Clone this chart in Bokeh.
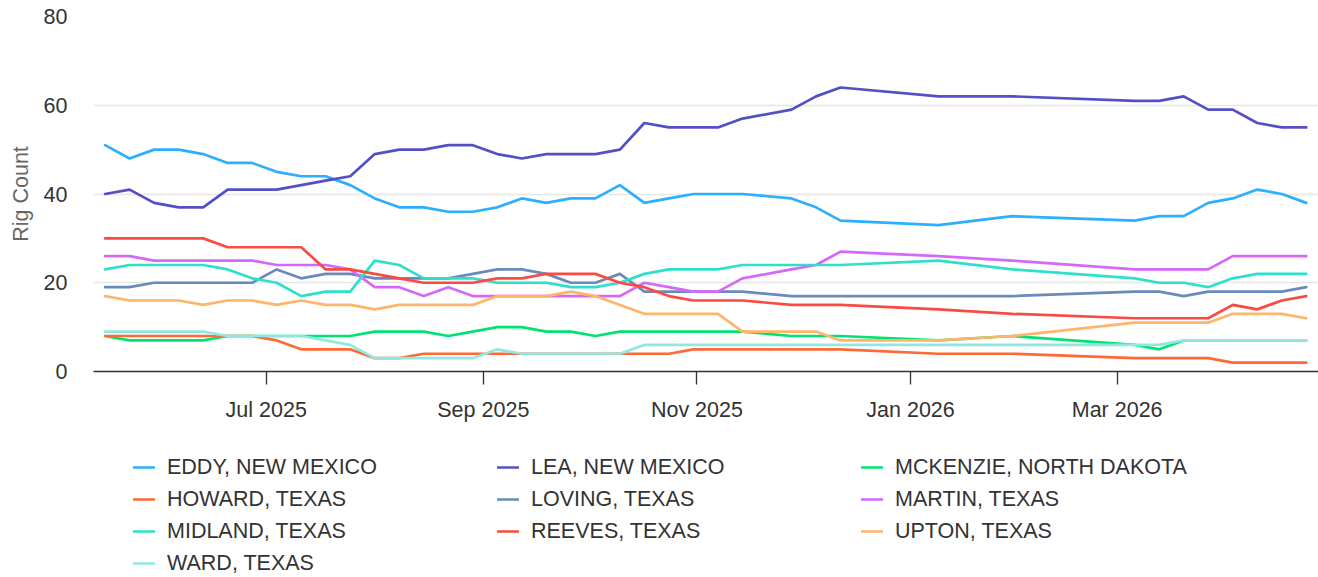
from datetime import datetime
from bokeh.plotting import figure
from bokeh.layouts import column
from bokeh.models import Range1d, FixedTicker, DatetimeTickFormatter, Legend, LegendItem
from bokeh.embed import file_html
from bokeh.resources import INLINE

# ---- data -------------------------------------------------------------
dates = [
    "2025-05-16", "2025-05-23", "2025-05-30", "2025-06-06", "2025-06-13",
    "2025-06-20", "2025-06-27", "2025-07-04", "2025-07-11", "2025-07-18",
    "2025-07-25", "2025-08-01", "2025-08-08", "2025-08-15", "2025-08-22",
    "2025-08-29", "2025-09-05", "2025-09-12", "2025-09-19", "2025-09-26",
    "2025-10-03", "2025-10-10", "2025-10-17", "2025-10-24", "2025-10-31",
    "2025-11-07", "2025-11-14", "2025-11-28", "2025-12-05", "2025-12-12",
    "2026-01-09", "2026-01-30", "2026-03-06", "2026-03-13", "2026-03-20",
    "2026-03-27", "2026-04-03", "2026-04-10", "2026-04-17", "2026-04-24",
]

eddy     = [51, 48, 50, 50, 49, 47, 47, 45, 44, 44, 42, 39, 37, 37, 36, 36, 37, 39, 38, 39,
            39, 42, 38, 39, 40, 40, 40, 39, 37, 34, 33, 35, 34, 35, 35, 38, 39, 41, 40, 38]
lea      = [40, 41, 38, 37, 37, 41, 41, 41, 42, 43, 44, 49, 50, 50, 51, 51, 49, 48, 49, 49,
            49, 50, 56, 55, 55, 55, 57, 59, 62, 64, 62, 62, 61, 61, 62, 59, 59, 56, 55, 55]
mckenzie = [8, 7, 7, 7, 7, 8, 8, 8, 8, 8, 8, 9, 9, 9, 8, 9, 10, 10, 9, 9,
            8, 9, 9, 9, 9, 9, 9, 8, 8, 8, 7, 8, 6, 5, 7, 7, 7, 7, 7, 7]
howard   = [8, 8, 8, 8, 8, 8, 8, 7, 5, 5, 5, 3, 3, 4, 4, 4, 4, 4, 4, 4,
            4, 4, 4, 4, 5, 5, 5, 5, 5, 5, 4, 4, 3, 3, 3, 3, 2, 2, 2, 2]
loving   = [19, 19, 20, 20, 20, 20, 20, 23, 21, 22, 22, 21, 21, 21, 21, 22, 23, 23, 22, 20,
            20, 22, 18, 18, 18, 18, 18, 17, 17, 17, 17, 17, 18, 18, 17, 18, 18, 18, 18, 19]
martin   = [26, 26, 25, 25, 25, 25, 25, 24, 24, 24, 23, 19, 19, 17, 19, 17, 17, 17, 17, 17,
            17, 17, 20, 19, 18, 18, 21, 23, 24, 27, 26, 25, 23, 23, 23, 23, 26, 26, 26, 26]
midland  = [23, 24, 24, 24, 24, 23, 21, 20, 17, 18, 18, 25, 24, 21, 21, 21, 20, 20, 20, 19,
            19, 20, 22, 23, 23, 23, 24, 24, 24, 24, 25, 23, 21, 20, 20, 19, 21, 22, 22, 22]
reeves   = [30, 30, 30, 30, 30, 28, 28, 28, 28, 23, 23, 22, 21, 20, 20, 20, 21, 21, 22, 22,
            22, 20, 19, 17, 16, 16, 16, 15, 15, 15, 14, 13, 12, 12, 12, 12, 15, 14, 16, 17]
upton    = [17, 16, 16, 16, 15, 16, 16, 15, 16, 15, 15, 14, 15, 15, 15, 15, 17, 17, 17, 18,
            17, 15, 13, 13, 13, 13, 9, 9, 9, 7, 7, 8, 11, 11, 11, 11, 13, 13, 13, 12]
ward     = [9, 9, 9, 9, 9, 8, 8, 8, 8, 7, 6, 3, 3, 3, 3, 3, 5, 4, 4, 4,
            4, 4, 6, 6, 6, 6, 6, 6, 6, 6, 6, 6, 6, 6, 7, 7, 7, 7, 7, 7]

series_names = [
    "EDDY, NEW MEXICO", "LEA, NEW MEXICO", "MCKENZIE, NORTH DAKOTA",
    "HOWARD, TEXAS", "LOVING, TEXAS", "MARTIN, TEXAS",
    "MIDLAND, TEXAS", "REEVES, TEXAS", "UPTON, TEXAS", "WARD, TEXAS",
]
series_values = [eddy, lea, mckenzie, howard, loving, martin, midland, reeves, upton, ward]
series_colors = ["#2caffe", "#544fc5", "#00e272", "#fe6a35", "#6b8abc",
                 "#d568fb", "#2ee0ca", "#fa4b42", "#feb56a", "#91e8e1"]

x_tick_dates = ["2025-07-01", "2025-09-01", "2025-11-01", "2026-01-01", "2026-03-01"]
y_ticks = [0, 20, 40, 60, 80]
y_title = "Rig Count"

# ---- helpers ----------------------------------------------------------
EPOCH = datetime(1970, 1, 1)


def to_ms(d):
    return (d - EPOCH).total_seconds() * 1000.0


xs = [datetime.fromisoformat(d) for d in dates]
FONT = "Liberation Sans"
FS = "21.5px"
LINE_W = 2.7

# ---- main chart -------------------------------------------------------
main = figure(
    width=1318, height=430,
    x_axis_type="datetime",
    x_range=Range1d(datetime(2025, 5, 12, 16, 30), datetime(2026, 4, 27, 11, 45)),
    y_range=Range1d(0, 80),
    output_backend="svg", toolbar_location=None,
    min_border_left=93, min_border_right=0, min_border_top=16, min_border_bottom=59,
)
main.outline_line_color = None
main.background_fill_color = "white"
main.border_fill_color = "white"

for name, vals, col in zip(series_names, series_values, series_colors):
    main.line(xs, vals, line_color=col, line_width=LINE_W,
              line_join="round", line_cap="round")

# x axis
main.xaxis.ticker = FixedTicker(ticks=[to_ms(datetime.fromisoformat(d)) for d in x_tick_dates])
fmt = "%b %Y"
main.xaxis.formatter = DatetimeTickFormatter(
    microseconds=fmt, milliseconds=fmt, seconds=fmt, minsec=fmt, minutes=fmt,
    hourmin=fmt, hours=fmt, days=fmt, months=fmt, years=fmt)
main.xaxis.axis_line_color = "#333333"
main.xaxis.axis_line_width = 1.33
main.xaxis.major_tick_line_color = "#333333"
main.xaxis.major_tick_line_width = 1.33
main.xaxis.major_tick_in = 0
main.xaxis.major_tick_out = 13
main.xaxis.minor_tick_line_color = None
main.xaxis.major_label_standoff = 13
main.xaxis.major_label_text_font = FONT
main.xaxis.major_label_text_font_size = FS
main.xaxis.major_label_text_color = "#333333"

# y axis
main.yaxis.ticker = FixedTicker(ticks=y_ticks)
main.yaxis.axis_line_color = None
main.yaxis.major_tick_line_color = None
main.yaxis.minor_tick_line_color = None
main.yaxis.major_tick_in = 0
main.yaxis.major_tick_out = 0
main.yaxis.major_label_standoff = 26
main.yaxis.major_label_text_font = FONT
main.yaxis.major_label_text_font_size = FS
main.yaxis.major_label_text_color = "#333333"
main.yaxis.axis_label = y_title
main.yaxis.axis_label_text_font = FONT
main.yaxis.axis_label_text_font_size = FS
main.yaxis.axis_label_text_font_style = "normal"
main.yaxis.axis_label_text_color = "#666666"
main.yaxis.axis_label_standoff = 8

main.xgrid.visible = False
main.ygrid.grid_line_color = "#e6e6e6"
main.ygrid.grid_line_width = 1.33

# ---- legend strip -----------------------------------------------------
leg = figure(
    width=1318, height=147,
    x_range=Range1d(0, 1), y_range=Range1d(0, 1),
    x_axis_location=None, y_axis_location=None,
    output_backend="svg", toolbar_location=None, min_border=0,
)
leg.outline_line_color = None
leg.grid.visible = False
leg.background_fill_color = "white"
leg.border_fill_color = "white"

items = []
for name, col in zip(series_names, series_colors):
    # key-only renderer: its points lie outside this strip's visible range
    r = leg.line([-10, -9], [-10, -9], line_color=col, line_width=LINE_W, line_cap="round")
    items.append(LegendItem(label=name, renderers=[r]))

legend = Legend(
    items=items,
    orientation="horizontal", ncols=3,
    location=(40, 0),
    glyph_width=22, glyph_height=28, label_height=28, label_width=326,
    label_standoff=12, spacing=4, padding=0, margin=0,
    border_line_color=None, background_fill_alpha=0,
    label_text_font=FONT, label_text_font_size=FS, label_text_color="#333333",
)
leg.add_layout(legend, "center")

p = column(main, leg)

open("out.html", "w").write(file_html(p, INLINE))
